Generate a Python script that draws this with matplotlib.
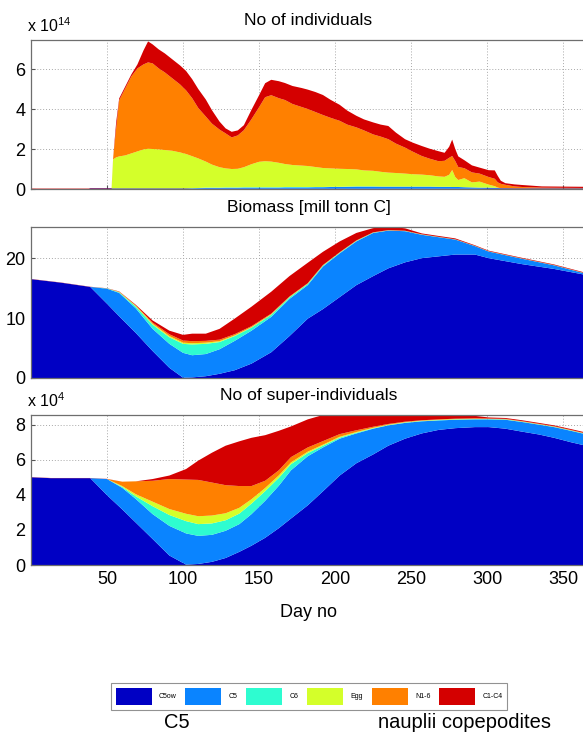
import matplotlib
matplotlib.use("Agg")
import matplotlib.pyplot as plt
import numpy as np

# ---------------- data ----------------
labels = ["C5ow", "C5", "C6", "Egg", "N1-6", "C1-C4"]
colors = ["#0000c4", "#0a84ff", "#2efcd0", "#d4ff2a", "#ff8000", "#d40000"]

# Panel 1: number of individuals (x 1e14)
days_t = [0, 38, 39, 53, 54, 56, 58, 62, 66, 70, 74, 77, 80, 84, 88, 93, 98, 102, 106, 110,
          115, 119, 124, 128, 132, 136, 140, 145, 150, 154, 158, 163, 167, 172, 178, 182, 187,
          192, 197, 203, 208, 214, 219, 225, 230, 235, 240, 246, 251, 257, 262, 268, 272, 275,
          277, 279, 281, 285, 290, 295, 301, 305, 307, 309, 312, 318, 323, 336, 350, 365]
c5ow_t = [0.0, 0.0, 0.03, 0.03, 0.03, 0.03, 0.03, 0.03, 0.03, 0.03, 0.03, 0.03, 0.03, 0.03, 0.03, 0.03, 0.03, 0.03, 0.02, 0.02,
          0.02, 0.02, 0.02, 0.02, 0.02, 0.02, 0.02, 0.02, 0.02, 0.02, 0.02, 0.02, 0.02, 0.02, 0.02, 0.02, 0.02,
          0.02, 0.02, 0.02, 0.02, 0.02, 0.02, 0.02, 0.02, 0.02, 0.02, 0.02, 0.02, 0.02, 0.02, 0.02, 0.02, 0.02,
          0.02, 0.02, 0.02, 0.02, 0.02, 0.02, 0.03, 0.03, 0.03, 0.03, 0.03, 0.03, 0.03, 0.03, 0.03, 0.03]
c5_t = [0.0, 0.0, 0.0, 0.0, 0.0, 0.0, 0.0, 0.0, 0.0, 0.0, 0.0, 0.0, 0.0, 0.0, 0.0, 0.0, 0.0, 0.0, 0.01, 0.02,
        0.03, 0.03, 0.03, 0.04, 0.04, 0.04, 0.05, 0.05, 0.05, 0.05, 0.05, 0.05, 0.06, 0.06, 0.06, 0.06, 0.07,
        0.07, 0.08, 0.08, 0.09, 0.1, 0.1, 0.1, 0.1, 0.1, 0.1, 0.1, 0.1, 0.1, 0.1, 0.09, 0.09, 0.09,
        0.08, 0.08, 0.08, 0.07, 0.06, 0.05, 0.04, 0.03, 0.02, 0.01, 0.01, 0.0, 0.0, 0.0, 0.0, 0.0]
c6_t = [0.0, 0.0, 0.0, 0.0, 0.0, 0.0, 0.0, 0.0, 0.0, 0.0, 0.0, 0.0, 0.0, 0.0, 0.0, 0.0, 0.0, 0.0, 0.01, 0.01,
        0.02, 0.02, 0.02, 0.02, 0.02, 0.02, 0.02, 0.02, 0.02, 0.02, 0.02, 0.02, 0.02, 0.02, 0.02, 0.02, 0.01,
        0.01, 0.01, 0.01, 0.01, 0.01, 0.01, 0.01, 0.0, 0.0, 0.0, 0.0, 0.0, 0.0, 0.0, 0.0, 0.0, 0.0,
        0.0, 0.0, 0.0, 0.0, 0.0, 0.0, 0.0, 0.0, 0.0, 0.0, 0.0, 0.0, 0.0, 0.0, 0.0, 0.0]
egg_t = [0.0, 0.0, 0.0, 0.0, 1.45, 1.55, 1.6, 1.65, 1.75, 1.85, 1.95, 1.98, 1.97, 1.95, 1.92, 1.88, 1.8, 1.72, 1.6, 1.48,
         1.3, 1.15, 1.02, 0.95, 0.92, 0.93, 1.0, 1.15, 1.27, 1.3, 1.28, 1.22, 1.15, 1.1, 1.07, 1.05, 1.0,
         0.95, 0.92, 0.9, 0.88, 0.85, 0.8, 0.78, 0.74, 0.7, 0.68, 0.65, 0.62, 0.6, 0.57, 0.52, 0.5, 0.6,
         0.85, 0.5, 0.35, 0.45, 0.25, 0.3, 0.15, 0.08, 0.02, 0.0, 0.0, 0.0, 0.0, 0.0, 0.0, 0.0]
n16_t = [0.0, 0.0, 0.0, 0.0, 0.05, 1.45, 2.8, 3.35, 3.85, 4.15, 4.25, 4.32, 4.28, 4.05, 3.88, 3.62, 3.4, 3.18, 2.9, 2.52,
         2.25, 2.05, 1.88, 1.75, 1.58, 1.67, 1.85, 2.25, 2.73, 3.2, 3.32, 3.23, 3.2, 3.05, 2.93, 2.85, 2.75,
         2.65, 2.53, 2.4, 2.22, 2.1, 2.0, 1.82, 1.76, 1.67, 1.47, 1.3, 1.13, 0.93, 0.83, 0.76, 0.8, 0.85,
         0.7, 0.8, 0.65, 0.5, 0.5, 0.4, 0.38, 0.37, 0.26, 0.22, 0.17, 0.1, 0.07, 0.04, 0.03, 0.02]
c14_t = [0.02, 0.02, 0.02, 0.02, 0.0, 0.3, 0.1, 0.1, 0.1, 0.2, 0.7, 1.05, 0.95, 0.95, 0.95, 0.95, 0.95, 0.97, 0.95, 0.95,
         0.85, 0.67, 0.4, 0.25, 0.28, 0.25, 0.25, 0.47, 0.6, 0.7, 0.77, 0.85, 0.85, 0.9, 0.95, 0.97, 1.0,
         1.0, 0.9, 0.8, 0.7, 0.58, 0.55, 0.6, 0.6, 0.66, 0.55, 0.42, 0.45, 0.5, 0.5, 0.5, 0.4, 0.55,
         0.82, 0.6, 0.53, 0.4, 0.35, 0.3, 0.34, 0.42, 0.32, 0.15, 0.08, 0.1, 0.1, 0.06, 0.06, 0.06]

# Panel 2: biomass (mill tonn C)
days_b = [0, 20, 39, 50, 58, 69, 80, 91, 100, 106, 115, 124, 134, 145, 158, 170, 182, 192, 203,
          214, 225, 235, 246, 257, 268, 279, 292, 301, 323, 344, 365]
c5ow_b = [16.5, 15.9, 15.2, 12.4, 10.3, 7.5, 4.5, 1.7, 0.05, 0.1, 0.3, 0.7, 1.3, 2.4, 4.3, 7.0, 9.9, 11.5, 13.5,
          15.5, 17.0, 18.3, 19.3, 20.0, 20.3, 20.6, 20.6, 20.0, 19.0, 18.2, 17.2]
c5_b = [0.0, 0.0, 0.0, 2.5, 3.9, 4.1, 3.7, 4.0, 4.15, 3.7, 3.7, 4.1, 4.9, 5.5, 5.9, 6.2, 5.6, 7.1, 7.3,
        7.3, 7.2, 6.3, 5.2, 3.9, 3.2, 2.5, 1.4, 1.1, 0.9, 0.6, 0.2]
c6_b = [0.0, 0.0, 0.0, 0.05, 0.1, 0.3, 0.7, 1.1, 1.5, 1.8, 1.7, 1.2, 0.8, 0.5, 0.35, 0.25, 0.2, 0.15, 0.1,
        0.08, 0.05, 0.03, 0.03, 0.03, 0.02, 0.02, 0.02, 0.02, 0.02, 0.02, 0.02]
egg_b = [0.0, 0.0, 0.0, 0.0, 0.05, 0.1, 0.15, 0.2, 0.2, 0.2, 0.2, 0.15, 0.12, 0.1, 0.08, 0.06, 0.05, 0.04, 0.03,
         0.03, 0.02, 0.02, 0.02, 0.02, 0.02, 0.01, 0.01, 0.01, 0.01, 0.01, 0.01]
n16_b = [0.0, 0.0, 0.0, 0.0, 0.05, 0.1, 0.2, 0.3, 0.35, 0.35, 0.3, 0.25, 0.2, 0.15, 0.12, 0.1, 0.08, 0.07, 0.06,
         0.05, 0.04, 0.03, 0.03, 0.03, 0.02, 0.02, 0.02, 0.02, 0.02, 0.02, 0.02]
c14_b = [0.03, 0.03, 0.03, 0.03, 0.05, 0.1, 0.35, 0.6, 0.95, 1.25, 1.2, 1.8, 2.6, 3.25, 3.65, 3.4, 3.4, 2.2, 1.8,
         1.25, 0.7, 0.6, 0.4, 0.15, 0.15, 0.15, 0.1, 0.1, 0.1, 0.1, 0.1]

# Panel 3: number of super-individuals (x 1e4)
days_s = [0, 13, 39, 50, 60, 69, 80, 91, 102, 110, 119, 128, 137, 145, 154, 163, 171, 182, 192, 203,
          214, 225, 235, 246, 257, 268, 279, 292, 301, 312, 323, 334, 344, 355, 365]
c5ow_s = [5.0, 4.95, 4.95, 3.98, 3.17, 2.41, 1.48, 0.54, 0.02, 0.06, 0.18, 0.4, 0.75, 1.1, 1.55, 2.1, 2.65, 3.4, 4.2, 5.1,
          5.8, 6.3, 6.8, 7.2, 7.5, 7.7, 7.8, 7.86, 7.86, 7.77, 7.6, 7.44, 7.25, 7.0, 6.8]
c5_s = [0.0, 0.0, 0.0, 0.92, 1.23, 1.35, 1.42, 1.69, 1.78, 1.6, 1.54, 1.55, 1.58, 1.8, 2.11, 2.42, 2.75, 2.8, 2.5, 2.1,
        1.7, 1.47, 1.16, 0.9, 0.69, 0.54, 0.48, 0.44, 0.44, 0.51, 0.55, 0.56, 0.61, 0.65, 0.65]
c6_s = [0.0, 0.0, 0.0, 0.0, 0.05, 0.15, 0.45, 0.62, 0.7, 0.67, 0.65, 0.6, 0.6, 0.6, 0.55, 0.45, 0.35, 0.18, 0.1, 0.06,
        0.04, 0.02, 0.02, 0.02, 0.02, 0.02, 0.02, 0.02, 0.02, 0.02, 0.02, 0.02, 0.02, 0.02, 0.02]
egg_s = [0.0, 0.0, 0.0, 0.0, 0.05, 0.12, 0.26, 0.34, 0.42, 0.45, 0.45, 0.4, 0.33, 0.25, 0.18, 0.14, 0.1, 0.08, 0.06, 0.05,
         0.04, 0.03, 0.02, 0.02, 0.02, 0.02, 0.02, 0.02, 0.01, 0.01, 0.01, 0.01, 0.01, 0.01, 0.01]
n16_s = [0.0, 0.0, 0.0, 0.0, 0.25, 0.74, 1.19, 1.71, 1.95, 2.07, 1.88, 1.6, 1.24, 0.75, 0.41, 0.29, 0.3, 0.24, 0.2, 0.15,
         0.1, 0.06, 0.04, 0.03, 0.02, 0.02, 0.02, 0.02, 0.02, 0.02, 0.02, 0.02, 0.02, 0.02, 0.02]
c14_s = [0.01, 0.01, 0.01, 0.01, 0.0, 0.0, 0.1, 0.2, 0.6, 1.1, 1.7, 2.25, 2.55, 2.75, 2.6, 2.25, 1.75, 1.6, 1.49, 1.09,
         0.87, 0.67, 0.5, 0.4, 0.3, 0.25, 0.2, 0.14, 0.06, 0.05, 0.05, 0.05, 0.05, 0.05, 0.05]

xticks = [50, 100, 150, 200, 250, 300, 350]
titles = ["No of individuals", "Biomass [mill tonn C]", "No of super-individuals"]

# ---------------- figure ----------------
W, H = 583, 735
font = ["Liberation Sans", "DejaVu Sans"]
plt.rcParams["font.family"] = font
plt.rcParams["mathtext.fontset"] = "custom"
plt.rcParams["mathtext.rm"] = "Liberation Sans"
fig = plt.figure(figsize=(W / 100, H / 100), dpi=100)

def px_axes(top, bottom, left=31, right=586):
    return fig.add_axes([left / W, 1 - bottom / H, (right - left) / W, (bottom - top) / H])

panels = [
    (px_axes(40, 189), days_t, [c5ow_t, c5_t, c6_t, egg_t, n16_t, c14_t], 7.45, [0, 2, 4, 6], r"x 10$^{\mathrm{14}}$"),
    (px_axes(227, 378), days_b, [c5ow_b, c5_b, c6_b, egg_b, n16_b, c14_b], 25.2, [0, 10, 20], None),
    (px_axes(415, 565), days_s, [c5ow_s, c5_s, c6_s, egg_s, n16_s, c14_s], 8.55, [0, 2, 4, 6, 8], r"x 10$^{\mathrm{4}}$"),
]

handles = None
for i, (ax, d, series, ytop, yt, mult) in enumerate(panels):
    polys = ax.stackplot(d, *series, colors=colors, labels=labels, linewidth=0, edgecolor="none")
    if handles is None:
        handles = polys
    ax.set_xlim(0, 365)
    ax.set_ylim(0, ytop)
    ax.set_xticks(xticks)
    ax.set_yticks(yt)
    ax.set_axisbelow(True)
    ax.grid(True, linestyle=(0, (1, 2)), color="#a8a8a8", linewidth=0.7)
    ax.tick_params(direction="in", length=3, labelsize=13, pad=4, color="#555555")
    for s in ax.spines.values():
        s.set_color("#6e6e6e")
        s.set_linewidth(0.9)
    if i < 2:
        ax.tick_params(labelbottom=False)
    ax.set_title(titles[i], fontsize=12.5, pad=10.5)
    if mult:
        ax.text(-0.007, 1.035, mult, transform=ax.transAxes, fontsize=11.5, ha="left", va="bottom")

panels[2][0].set_xlabel("Day no", fontsize=13, labelpad=12)

leg = fig.legend(handles, labels, loc="center", bbox_to_anchor=(309 / W, 1 - 696.5 / H), ncol=6,
                 fontsize=5, handlelength=5.2, handleheight=3.6, columnspacing=1.3, handletextpad=1.0,
                 frameon=True, fancybox=False, edgecolor="#777777", borderpad=0.7)
leg.get_frame().set_linewidth(0.8)

fig.text(177 / W, 1 - 722 / H, "C5", fontsize=14.5, ha="center", va="center")
fig.text(464 / W, 1 - 722 / H, "nauplii copepodites", fontsize=14.5, ha="center", va="center")

fig.savefig("out.png", dpi=100)
